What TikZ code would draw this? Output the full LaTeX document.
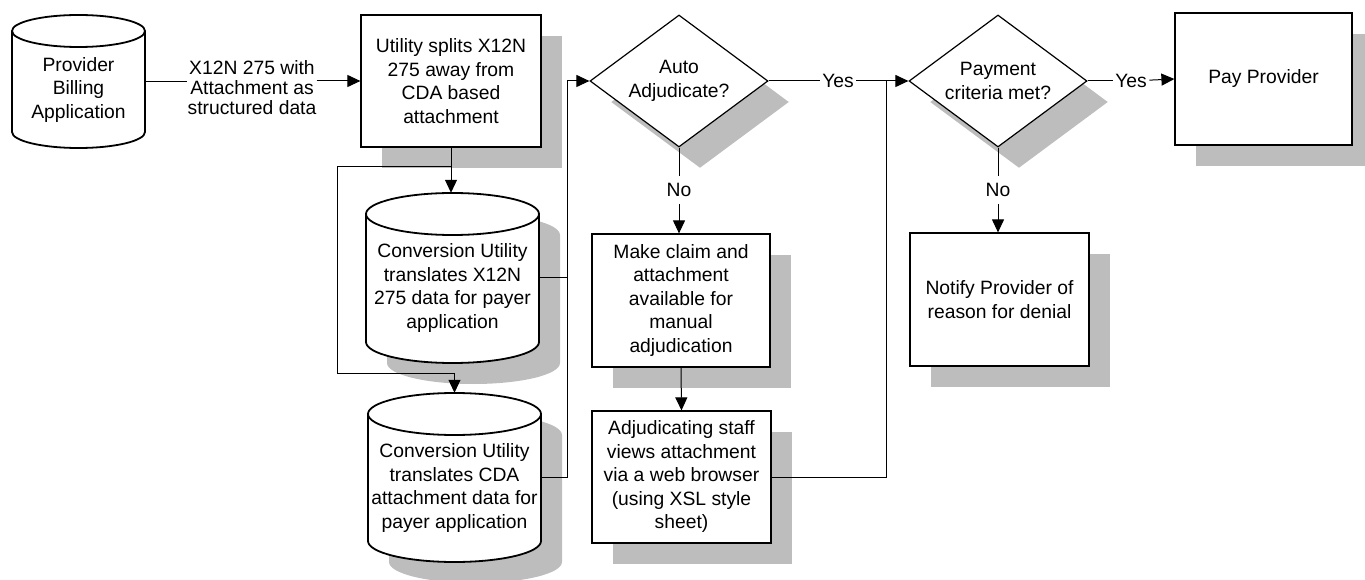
\documentclass[tikz,border=0pt]{standalone}
\usepackage{fontspec}
\setmainfont{Liberation Sans}
\usetikzlibrary{arrows.meta,shapes.geometric,shadows,calc}
\begin{document}
\begin{tikzpicture}[x=1pt,y=1pt,
  every node/.style={font=\fontsize{19.3}{23.5}\selectfont},
  shad/.style={drop shadow={shadow xshift=21pt,shadow yshift=-21pt,fill=black!26,opacity=1}},
  box/.style={draw,line width=1.2pt,fill=white,align=center,inner sep=0pt,shad},
  dec/.style={diamond,draw,line width=1.2pt,fill=white,align=center,inner sep=0pt,aspect=1.35,
    minimum width=178pt,minimum height=132pt,shad},
  cylline/.style={draw,line width=1.8pt,fill=white},
  cylshad/.style={fill=black!26,draw=none},
  bbox/.style={inner sep=0pt,draw=none},
  txt/.style={align=center,inner sep=0pt},
  lab/.style={inner sep=2.5pt},
  conn/.style={draw,line width=1pt},
  arr/.style={conn,-{Triangle[length=13pt,width=12pt]}}
]
\useasboundingbox (0,0) rectangle (1365,579);

% ---------- cylinders ----------
% Provider Billing Application (no shadow)
\path[cylline] (12,548) -- (12,447) arc[start angle=180,end angle=360,x radius=66.5pt,y radius=16pt]
  -- (145,548) arc[start angle=0,end angle=180,x radius=66.5pt,y radius=16pt] -- cycle;
\draw[line width=1.8pt] (12,548) arc[start angle=180,end angle=360,x radius=66.5pt,y radius=16pt];
\node[bbox,minimum width=133pt,minimum height=133pt] (prov) at (78.5,497.5) {};
\node[txt] (provt) at (78.5,489) {Provider\\Billing\\Application};

% Conversion utility X12N
\path[cylshad,xshift=21pt,yshift=-21pt] (366,365) -- (366,237) arc[start angle=180,end angle=360,x radius=86.5pt,y radius=21pt]
  -- (539,365) arc[start angle=0,end angle=180,x radius=86.5pt,y radius=21pt] -- cycle;
\path[cylline] (366,365) -- (366,237) arc[start angle=180,end angle=360,x radius=86.5pt,y radius=21pt]
  -- (539,365) arc[start angle=0,end angle=180,x radius=86.5pt,y radius=21pt] -- cycle;
\draw[line width=1.8pt] (366,365) arc[start angle=180,end angle=360,x radius=86.5pt,y radius=21pt];
\node[bbox,minimum width=173pt,minimum height=170pt] (cv1) at (452.5,301) {};
\node[txt] (cv1t) at (452.5,291) {Conversion Utility\\translates X12N\\275 data for payer\\application};

% Conversion utility CDA
\path[cylshad,xshift=21pt,yshift=-21pt] (368,165) -- (368,38) arc[start angle=180,end angle=360,x radius=86.5pt,y radius=21pt]
  -- (541,165) arc[start angle=0,end angle=180,x radius=86.5pt,y radius=21pt] -- cycle;
\path[cylline] (368,165) -- (368,38) arc[start angle=180,end angle=360,x radius=86.5pt,y radius=21pt]
  -- (541,165) arc[start angle=0,end angle=180,x radius=86.5pt,y radius=21pt] -- cycle;
\draw[line width=1.8pt] (368,165) arc[start angle=180,end angle=360,x radius=86.5pt,y radius=21pt];
\node[bbox,minimum width=173pt,minimum height=169pt] (cv2) at (454.5,101.5) {};
\node[txt] (cv2t) at (454.5,91) {Conversion Utility\\translates CDA\\attachment data for\\payer application};

% ---------- boxes ----------
\node[box,minimum width=180pt,minimum height=132pt] (split) at (451,498)
  {Utility splits X12N\\275 away from\\CDA based\\attachment};
\node[box,minimum width=178pt,minimum height=133pt] (claim) at (681,278.5)
  {Make claim and\\attachment\\available for\\manual\\adjudication};
\node[box,minimum width=179pt,minimum height=132pt] (view) at (681.5,102)
  {Adjudicating staff\\views attachment\\via a web browser\\(using XSL style\\sheet)};
\node[box,minimum width=179pt,minimum height=133pt] (notify) at (999.5,279.5)
  {Notify Provider of\\reason for denial};
\node[box,minimum width=177pt,minimum height=132pt] (paid) at (1263.5,500)
  {Pay Provider};

% ---------- decisions ----------
\node[dec] (auto) at (679,498) {Auto\\Adjudicate?};
\node[dec] (pdec) at (998,498) {Payment\\criteria met?};

% ---------- labels ----------
\node[txt,font=\fontsize{19.3}{20}\selectfont] (lbl) at (252,491) {X12N 275 with\\Attachment as\\structured data};
\node[lab] (yes1) at (838,498) {Yes};
\node[lab] (yes2) at (1131,498) {Yes};
\node[lab,inner sep=7pt] (no1) at (679,389) {No};
\node[lab,inner sep=7pt] (no2) at (998,389) {No};

% ---------- coordinates ----------
\coordinate (br) at (451,412);
\coordinate (c2) at (337,206);
\coordinate (jx) at (567,498);
\coordinate (j2) at (886,498);

% ---------- connectors ----------
\draw[conn] (prov.east) -- (prov.east -| lbl.west);
\draw[arr] (split.west -| lbl.east) -- (split.west);
\draw[arr] (split.south) -- (split.south |- cv1.north);
\draw[arr] (br) -| (c2) -- (c2 -| cv2.north) -- (cv2.north);
\draw[arr] (cv1.east) -| (jx) -- (auto.west);
\draw[conn] (cv2.east) -| (jx);
\draw[conn] (auto.east) -- (yes1);
\draw[arr] (yes1) -- (pdec.west);
\draw[conn] (view.east) -| (j2);
\draw[conn] (pdec.east) -- (yes2);
\draw[arr] (yes2) -- (paid.west);
\draw[conn] (auto.south) -- (no1);
\draw[arr] (no1) -- (no1 |- claim.north);
\draw[arr] (claim.south) -- (view.north);
\draw[conn] (pdec.south) -- (no2);
\draw[arr] (no2) -- (no2 |- notify.north);
\end{tikzpicture}
\end{document}
